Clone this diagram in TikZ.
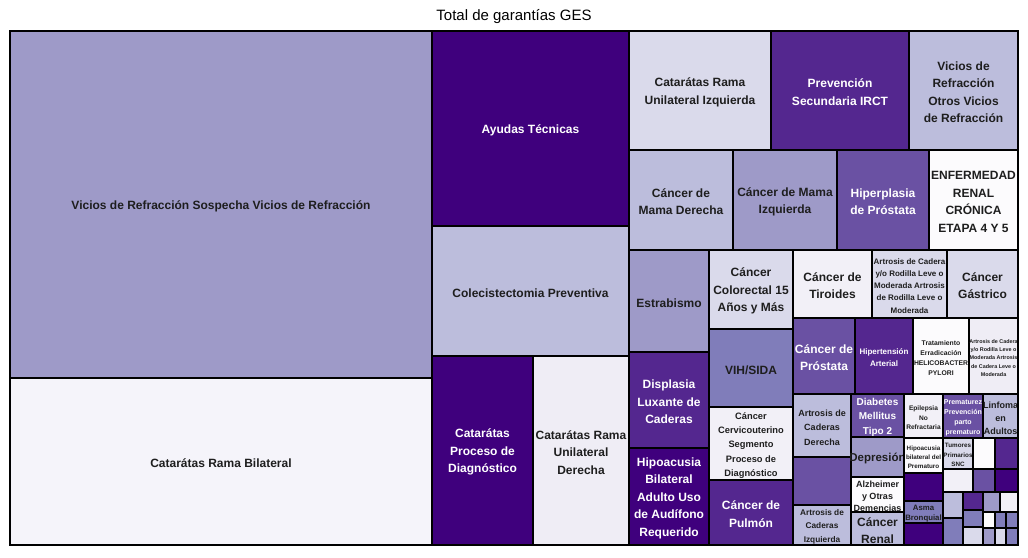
\documentclass[tikz,border=0pt]{standalone}
\usepackage{fontspec}
\setmainfont{Liberation Sans}
\definecolor{pA}{HTML}{FCFBFD}
\definecolor{pB}{HTML}{EFEDF5}
\definecolor{pBB}{HTML}{F2F0F7}
\definecolor{pC}{HTML}{DADAEB}
\definecolor{pD}{HTML}{BCBDDC}
\definecolor{pE}{HTML}{9E9AC8}
\definecolor{pF}{HTML}{807DBA}
\definecolor{pG}{HTML}{6A51A3}
\definecolor{pH}{HTML}{54278F}
\definecolor{pI}{HTML}{3F007D}
\definecolor{pL}{HTML}{F5F4FA}
\definecolor{txt}{HTML}{1E1E1E}
\tikzset{
  cellbox/.style={draw=black, line width=1.5pt},
  sz/.style 2 args={font=\fontsize{#1}{#2}\selectfont\bfseries},
  lbl/.style={sz={12}{17.5}, text=txt, align=center, inner sep=0pt, yshift=-1.8pt},
  wt/.style={text=white},
}
\newcommand\cell[8][]{%
  \path[cellbox,fill=#7] (#3,#4) rectangle (#5,#6);
  \node[lbl,#1] (#2) at ({(#3+#5)/2},{(#4+#6)/2}) {#8};}
\newcommand\blank[5]{\path[cellbox,fill=#5] (#1,#2) rectangle (#3,#4);}
\begin{document}
\begin{tikzpicture}[x=1pt,y=-1pt]
\useasboundingbox (0,0) rectangle (1028,557);
\node[font=\fontsize{15}{18}\selectfont, text=black, inner sep=0pt] (title) at (514,17) {Total de garantías GES};
% column 1
\cell{viciosS}{10}{31}{432}{378}{pE}{Vicios de Refracción Sospecha Vicios de Refracción}
\cell{catBil}{10}{378}{432}{545}{pL}{Catarátas Rama Bilateral}
% column 2
\cell[wt]{ayudas}{432}{31}{629}{226}{pI}{Ayudas Técnicas}
\cell{colec}{432}{226}{629}{356}{pD}{Colecistectomia Preventiva}
\cell[wt]{catProc}{432}{356}{533}{545}{pI}{Catarátas\\Proceso de\\Diagnóstico}
\cell{catDer}{533}{356}{629}{545}{pB}{Catarátas Rama\\Unilateral\\Derecha}
% right block row 1
\cell{catIzq}{629}{31}{771}{150}{pC}{Catarátas Rama\\Unilateral Izquierda}
\cell[wt]{prev}{771}{31}{909}{150}{pH}{Prevención\\Secundaria IRCT}
\cell{viciosO}{909}{31}{1018}{150}{pD}{Vicios de\\Refracción\\Otros Vicios\\de Refracción}
% row 2
\cell{mamaDer}{629}{150}{733}{250}{pD}{Cáncer de\\Mama Derecha}
\cell{mamaIzq}{733}{150}{837}{250}{pE}{Cáncer de Mama\\Izquierda}
\cell[wt]{hiper}{837}{150}{929}{250}{pG}{Hiperplasia\\de Próstata}
\cell{erc}{929}{150}{1018}{250}{pA}{ENFERMEDAD\\RENAL\\CRÓNICA\\ETAPA 4 Y 5}
% lower left columns
\cell{estrab}{629}{250}{709}{352}{pE}{Estrabismo}
\cell[wt]{displ}{629}{352}{709}{448}{pH}{Displasia\\Luxante de\\Caderas}
\cell[wt]{hipoA}{629}{448}{709}{545}{pI}{Hipoacusia\\Bilateral\\Adulto Uso\\de Audífono\\Requerido}
\cell{colo}{709}{250}{793}{329}{pC}{Cáncer\\Colorectal 15\\Años y Más}
\cell{vih}{709}{329}{793}{407}{pF}{VIH/SIDA}
\cell[sz={9.3}{14.3}]{cerv}{709}{407}{793}{480}{pBB}{Cáncer\\Cervicouterino\\Segmento\\Proceso de\\Diagnóstico}
\cell[wt]{pulm}{709}{480}{793}{545}{pH}{Cáncer de\\Pulmón}
% row 3
\cell{tiro}{793}{250}{872}{318}{pBB}{Cáncer de\\Tiroides}
\cell[sz={8}{12.3}]{artA}{872}{250}{947}{318}{pC}{Artrosis de Cadera\\y/o Rodilla Leve o\\Moderada Artrosis\\de Rodilla Leve o\\Moderada}
\cell{gastr}{947}{250}{1018}{318}{pC}{Cáncer\\Gástrico}
% row 4
\cell[wt]{prost}{793}{318}{855}{394}{pG}{Cáncer de\\Próstata}
\cell[wt,sz={8}{12}]{hta}{855}{318}{913}{394}{pH}{Hipertensión\\Arterial}
\cell[sz={6.8}{10}]{trat}{913}{318}{969}{394}{pA}{Tratamiento\\Erradicación\\HELICOBACTER\\PYLORI}
\cell[sz={5.4}{8.3}]{artB}{969}{318}{1018}{394}{pB}{Artrosis de Cadera\\y/o Rodilla Leve o\\Moderada Artrosis\\de Cadera Leve o\\Moderada}
% lower small cells
\cell[sz={9}{14.5}]{artDer}{793}{394}{851}{457}{pD}{Artrosis de\\Caderas\\Derecha}
\blank{793}{457}{851}{505}{pG}
\cell[sz={8.3}{13.5}]{artIzq}{793}{505}{851}{545}{pD}{Artrosis de\\Caderas\\Izquierda}
\cell[wt,sz={10}{14.5}]{diab}{851}{394}{904}{437}{pG}{Diabetes\\Mellitus\\Tipo 2}
\cell[sz={11.5}{16}]{depr}{851}{437}{904}{477}{pE}{Depresión}
\cell[sz={9}{12.3}]{alz}{851}{477}{904}{512}{pA}{Alzheimer\\y Otras\\Demencias}
\cell[sz={12}{17}]{renal}{851}{512}{904}{545}{pD}{Cáncer\\Renal}
\cell[sz={6.6}{9.5}]{epil}{904}{394}{943}{438}{pBB}{Epilepsia\\No\\Refractaria}
\cell[wt,sz={7}{10.3}]{prem}{943}{394}{983}{438}{pG}{Prematurez\\Prevención\\parto\\prematuro}
\cell[sz={9}{13}]{linf}{983}{394}{1018}{438}{pD}{Linfoma\\en\\Adultos}
\cell[sz={6.3}{9}]{hipoP}{904}{438}{943}{473}{pA}{Hipoacusia\\bilateral del\\Prematuro}
\blank{904}{473}{943}{501}{pI}
\cell[sz={7.8}{10}]{asma}{904}{501}{943}{523}{pF}{Asma\\Bronquial}
\blank{904}{523}{943}{545}{pI}
\cell[sz={6.3}{9.5}]{tum}{943}{438}{973}{469}{pC}{Tumores\\Primarios\\SNC}
\blank{973}{438}{995}{469}{pA}
\blank{995}{438}{1018}{469}{pH}
\blank{943}{469}{973}{492}{pBB}
\blank{973}{469}{995}{492}{pG}
\blank{995}{469}{1018}{492}{pI}
\blank{943}{492}{963}{518}{pD}
\blank{943}{518}{963}{545}{pF}
\blank{963}{492}{983}{510}{pH}
\blank{963}{510}{983}{527}{pF}
\blank{963}{527}{983}{545}{pC}
\blank{983}{492}{1000}{512}{pE}
\blank{1000}{492}{1018}{512}{pBB}
\blank{983}{512}{995}{528}{pA}
\blank{995}{512}{1006}{528}{pF}
\blank{1006}{512}{1018}{528}{pF}
\blank{983}{528}{995}{545}{pE}
\blank{995}{528}{1006}{545}{pC}
\blank{1006}{528}{1018}{545}{pF}
% outer frame
\draw[line width=1.8pt] (10,31) rectangle (1018,545);
\end{tikzpicture}
\end{document}
